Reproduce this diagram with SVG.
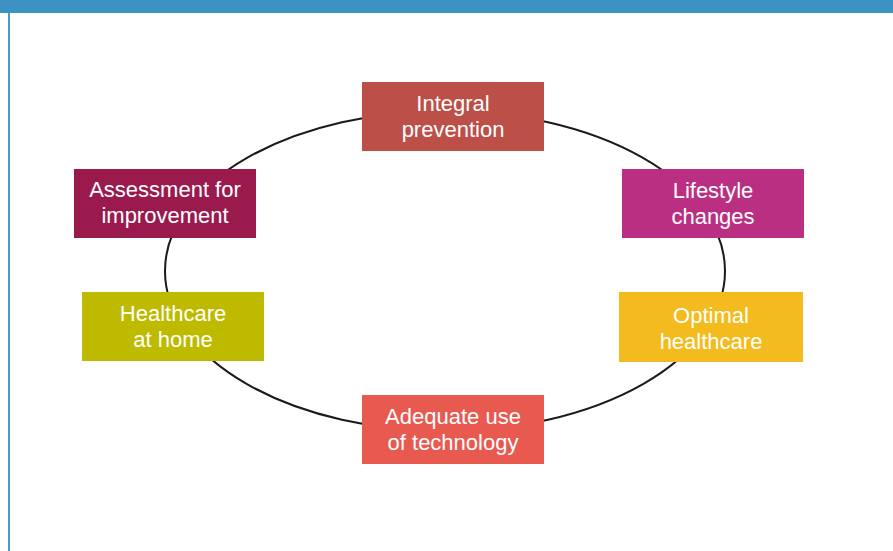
<svg xmlns="http://www.w3.org/2000/svg" width="893" height="551" viewBox="0 0 893 551">
  <style>
    .lbl { font-family: "Liberation Sans", Arial, sans-serif; font-size: 22px; fill: #ffffff; text-anchor: middle; }
    .ring { fill: none; stroke: #1a1a1a; stroke-width: 2; }
  </style>
  <rect x="0" y="0" width="893" height="551" fill="#ffffff"/>
  <!-- page frame: header band and left rule -->
  <rect x="0" y="0" width="893" height="13" fill="#3B92C3"/>
  <line x1="9" y1="13" x2="9" y2="551" stroke="#4A98CC" stroke-width="2"/>

  <g id="connectors">
    <ellipse class="ring" cx="445" cy="271" rx="280" ry="160"/>
  </g>

  <g id="integral-prevention">
    <rect x="362" y="82" width="182" height="69" fill="#BC5048"/>
    <text class="lbl" x="453" y="111">Integral</text>
    <text class="lbl" x="453" y="137">prevention</text>
  </g>

  <g id="lifestyle-changes">
    <rect x="622" y="169" width="182" height="69" fill="#BB2F82"/>
    <text class="lbl" x="713" y="198">Lifestyle</text>
    <text class="lbl" x="713" y="224">changes</text>
  </g>

  <g id="optimal-healthcare">
    <rect x="619" y="292" width="184" height="70" fill="#F3BB1E"/>
    <text class="lbl" x="711" y="323">Optimal</text>
    <text class="lbl" x="711" y="349">healthcare</text>
  </g>

  <g id="adequate-technology">
    <rect x="362" y="395" width="182" height="69" fill="#E85950"/>
    <text class="lbl" x="453" y="424">Adequate use</text>
    <text class="lbl" x="453" y="450">of technology</text>
  </g>

  <g id="healthcare-home">
    <rect x="82" y="292" width="182" height="69" fill="#BDBA00"/>
    <text class="lbl" x="173" y="321">Healthcare</text>
    <text class="lbl" x="173" y="347">at home</text>
  </g>

  <g id="assessment-improvement">
    <rect x="74" y="169" width="182" height="69" fill="#9B1A4D"/>
    <text class="lbl" x="165" y="197">Assessment for</text>
    <text class="lbl" x="165" y="223">improvement</text>
  </g>
</svg>
